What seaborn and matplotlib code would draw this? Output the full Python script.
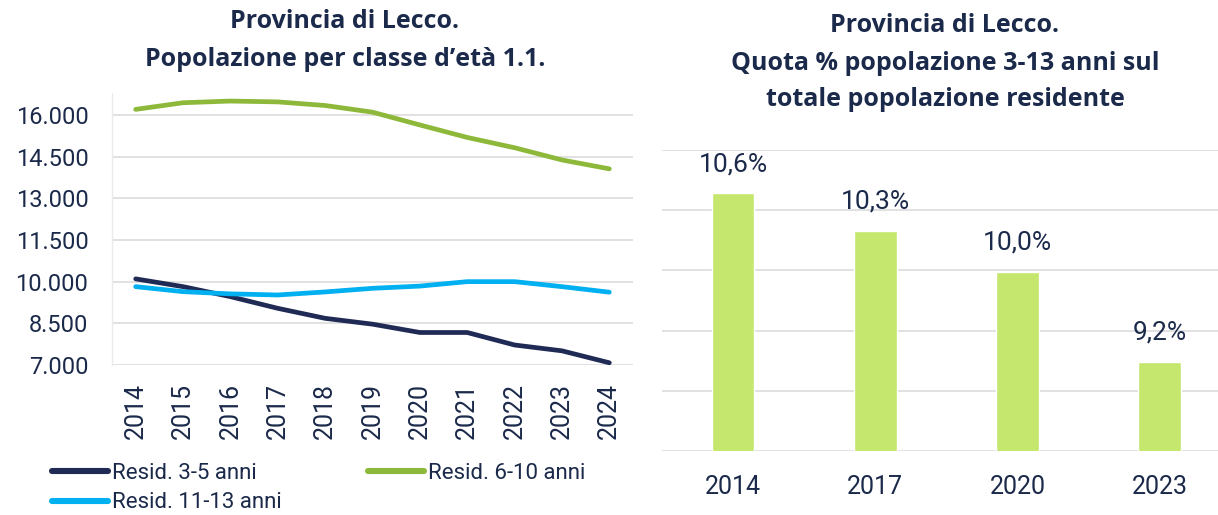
import pandas as pd
import matplotlib.pyplot as plt
import seaborn as sns
from matplotlib.lines import Line2D

# Dati
anni = [2014, 2015, 2016, 2017, 2018, 2019, 2020, 2021, 2022, 2023, 2024]
resid_3_5 = [10100, 9820, 9460, 9040, 8680, 8470, 8170, 8170, 7720, 7510, 7080]
resid_6_10 = [16200, 16440, 16500, 16470, 16340, 16100, 15640, 15190, 14820, 14380, 14060]
resid_11_13 = [9820, 9640, 9560, 9520, 9630, 9760, 9840, 10000, 10000, 9820, 9620]
serie = ["Resid. 3-5 anni", "Resid. 6-10 anni", "Resid. 11-13 anni"]
colori = ["#1F2A55", "#8DB83A", "#00B0F0"]

anni_quota = ["2014", "2017", "2020", "2023"]
quota = [10.64, 10.33, 9.99, 9.24]
etichette_quota = ["10,6%", "10,3%", "10,0%", "9,2%"]

y_ticks = [7000, 8500, 10000, 11500, 13000, 14500, 16000]

TXT = "#1B2A4A"
GRID = "#D9D9D9"
BAR = "#C5E76E"

sns.set_theme(style="white")
plt.rcParams["font.family"] = ["Roboto", "DejaVu Sans"]

df = pd.DataFrame({
    "anno": anni * 3,
    "valore": resid_3_5 + resid_6_10 + resid_11_13,
    "serie": [serie[0]] * 11 + [serie[1]] * 11 + [serie[2]] * 11,
})
df["pos"] = df["anno"] - anni[0]

fig = plt.figure(figsize=(12.18, 5.15), dpi=100)
W, H = 1218, 515

# --- grafico a linee ---
ax1 = fig.add_axes([112 / W, 1 - 365 / H, (633 - 112) / W, (365 - 93) / H])
sns.lineplot(data=df, x="pos", y="valore", hue="serie", palette=colori,
             linewidth=3.4, ax=ax1, legend=False, zorder=3)
ax1.set_xlim(-0.5, 10.5)
ax1.set_ylim(7000, 16790)
ax1.set_yticks(y_ticks)
ax1.set_yticklabels([f"{v:,}".replace(",", ".") for v in y_ticks])
ax1.set_xticks(range(len(anni)))
ax1.set_xticklabels([str(a) for a in anni], rotation=90)
ax1.tick_params(axis="y", length=0, pad=17, labelsize=17, labelcolor=TXT)
ax1.tick_params(axis="x", length=0, pad=13, labelsize=18, labelcolor=TXT)
ax1.grid(axis="y", color=GRID, linewidth=1.1)
ax1.set_xlabel("")
ax1.set_ylabel("")
for s in ["top", "right", "bottom"]:
    ax1.spines[s].set_visible(False)
ax1.spines["left"].set_color("#EBEBEB")
ax1.spines["left"].set_linewidth(1.0)

fig.text(345 / W, 1 - 22 / H, "Provincia di Lecco.", ha="center", va="center",
         fontsize=18, fontweight="bold", color=TXT, family="Open Sans")
fig.text(345 / W, 1 - 60 / H, "Popolazione per classe d\u2019età 1.1.", ha="center", va="center",
         fontsize=18, fontweight="bold", color=TXT, family="Open Sans")

ordine = [0, 2, 1]
handles = [Line2D([], [], color=colori[i], linewidth=4.4, solid_capstyle="round") for i in ordine]
fig.legend(handles, [serie[i] for i in ordine], ncol=2, loc="upper left",
           bbox_to_anchor=(52 / W, 1 - 463 / H), frameon=False,
           prop={"family": "Roboto", "size": 16},
           labelcolor=TXT, handlelength=2.5, handletextpad=0.2,
           columnspacing=3.9, labelspacing=0.38, borderaxespad=0, borderpad=0)

# --- grafico a barre ---
ax2 = fig.add_axes([662 / W, 1 - 451 / H, (1218 - 662) / W, (451 - 150) / H])
sns.barplot(x=anni_quota, y=quota, color=BAR, width=0.3, ax=ax2, zorder=3,
            saturation=1)
ax2.set_xlim(-0.5, 3.41)
ax2.set_ylim(8.5, 11.0)
ax2.set_yticks([8.5, 9.0, 9.5, 10.0, 10.5, 11.0])
ax2.set_yticklabels([])
ax2.grid(axis="y", color=GRID, linewidth=1.1)
ax2.tick_params(axis="both", length=0)
ax2.tick_params(axis="x", pad=17, labelsize=18, labelcolor=TXT)
for s in ax2.spines.values():
    s.set_visible(False)
for i, (v, lab) in enumerate(zip(quota, etichette_quota)):
    ax2.annotate(lab, (i, v), xytext=(0, 21), textcoords="offset points",
                 ha="center", va="center", fontsize=19, color=TXT)

fig.text(945 / W, 1 - 25 / H, "Provincia di Lecco.", ha="center", va="center",
         fontsize=18, fontweight="bold", color=TXT, family="Open Sans")
fig.text(945 / W, 1 - 63 / H, "Quota % popolazione 3-13 anni sul", ha="center", va="center",
         fontsize=18, fontweight="bold", color=TXT, family="Open Sans")
fig.text(945 / W, 1 - 100 / H, "totale popolazione residente", ha="center", va="center",
         fontsize=18, fontweight="bold", color=TXT, family="Open Sans")

fig.savefig("out.png", dpi=100)
